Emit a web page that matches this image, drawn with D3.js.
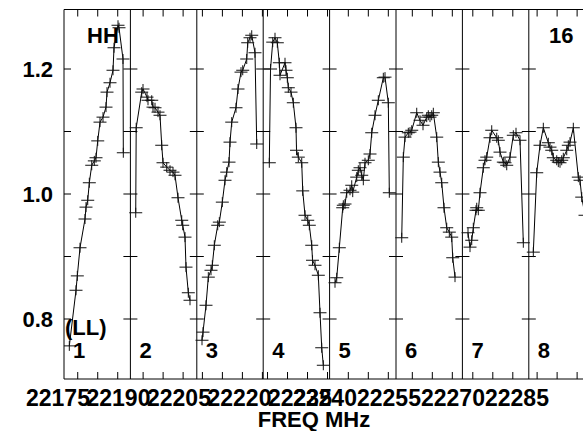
<!DOCTYPE html>
<html><head><meta charset="utf-8">
<script src="https://cdn.jsdelivr.net/npm/d3@7"></script>
<style>
html,body{margin:0;padding:0;background:#fff;}
svg text{font-family:"Liberation Sans",Arial,sans-serif;font-weight:bold;fill:#000;}
</style></head>
<body>
<script>
// ---- data (x = MHz offset within each panel, y = intensity ratio) ----
const panelNames = ["1","2","3","4","5","6","7","8"];
const spec1 = [[1.33,0.757],[3.0,0.846],[3.33,0.869],[4.0,0.914],[5.25,0.960],[5.5,0.979],[5.93,0.990],[6.33,1.018],[6.93,1.046],[7.58,1.053],[8.0,1.058],[8.43,1.085],[9.0,1.115],[9.75,1.123],[10.5,1.139],[10.75,1.163],[11.5,1.178],[12.25,1.198],[12.5,1.234],[13.5,1.270],[13.75,1.266],[14.75,1.216],[14.83,1.066]];
const spec2 = [[1.33,0.970],[1.45,1.106],[2.83,1.163],[3.15,1.168],[4.15,1.155],[4.4,1.150],[5.33,1.150],[5.65,1.139],[6.15,1.138],[6.9,1.131],[7.4,1.126],[7.83,1.078],[8.15,1.050],[9.08,1.043],[9.9,1.038],[10.65,1.035],[11.15,1.030],[11.9,0.994],[12.83,0.958],[13.08,0.950],[13.65,0.931],[13.9,0.883],[14.48,0.842],[14.9,0.830]];
const spec3 = [[1.3,0.766],[1.55,0.779],[2.3,0.822],[2.88,0.867],[3.55,0.878],[3.88,0.886],[4.38,0.918],[5.23,0.950],[5.63,0.955],[6.38,0.987],[7.05,1.022],[7.48,1.035],[8.05,1.051],[8.3,1.083],[8.73,1.115],[9.8,1.138],[10.3,1.168],[11.05,1.195],[11.48,1.198],[12.48,1.216],[12.73,1.242],[13.3,1.250],[13.73,1.254],[14.55,1.226],[14.98,1.080]];
const spec4 = [[1.53,1.050],[1.83,1.200],[2.38,1.243],[2.95,1.250],[3.53,1.242],[4.03,1.210],[4.2,1.190],[5.45,1.210],[5.7,1.198],[6.03,1.186],[6.28,1.170],[6.95,1.163],[7.53,1.146],[8.2,1.106],[8.33,1.070],[8.78,1.059],[9.63,1.050],[9.88,1.005],[10.45,0.966],[11.13,0.958],[11.53,0.950],[12.13,0.918],[12.33,0.894],[12.95,0.886],[13.78,0.870],[14.2,0.810],[14.63,0.754],[15.03,0.726]];
const spec5 = [[1.35,0.858],[1.78,0.866],[2.43,0.914],[3.28,0.978],[3.43,0.982],[3.85,0.984],[4.28,1.002],[5.1,1.006],[5.53,1.014],[5.78,1.003],[6.78,1.027],[7.18,1.038],[7.6,1.042],[8.03,1.030],[8.43,1.022],[8.85,1.050],[9.68,1.054],[10.1,1.064],[10.53,1.098],[11.35,1.126],[12.18,1.150],[13.43,1.186],[13.85,1.187],[14.68,1.146],[14.93,1.002]];
const spec6 = [[1.43,0.930],[1.83,1.059],[2.25,1.091],[3.08,1.098],[3.5,1.099],[3.93,1.102],[5.18,1.130],[6.0,1.118],[6.75,1.110],[7.68,1.123],[8.08,1.126],[8.5,1.123],[8.93,1.126],[9.33,1.130],[10.18,1.091],[10.58,1.051],[11.0,1.035],[11.43,1.018],[12.0,0.978],[12.68,0.946],[13.33,0.939],[13.93,0.931],[14.18,0.898],[14.75,0.867]];
const spec7 = [[1.4,0.938],[1.9,0.915],[2.33,0.926],[2.73,0.946],[3.4,0.974],[3.58,0.978],[3.98,0.974],[4.4,1.002],[5.23,1.042],[5.65,1.054],[6.08,1.059],[6.9,1.090],[7.33,1.102],[8.58,1.090],[8.98,1.086],[9.4,1.067],[10.23,1.051],[10.65,1.050],[11.08,1.046],[11.9,1.059],[12.73,1.094],[13.4,1.098],[14.4,1.086],[15.23,0.922]];
const spec8 = [[1.13,0.907],[1.98,1.034],[2.8,1.078],[3.63,1.106],[4.88,1.082],[5.3,1.075],[5.73,1.070],[6.13,1.058],[6.98,1.054],[7.38,1.051],[7.8,1.050],[8.23,1.054],[8.63,1.058],[9.48,1.070],[9.88,1.078],[10.3,1.083],[11.13,1.106],[12.38,1.027],[12.8,1.022],[13.23,0.995],[14.05,0.966]];
const spectra = [spec1,spec2,spec3,spec4,spec5,spec6,spec7,spec8];

const yTickValues = [0.8,0.9,1.0,1.1,1.2];
const yLabelValues = [0.8,1.0,1.2];
const panelFirstTick = [3.43,3.18,1.4,1.08,4.68,4.08,2.6,2.08];
const tickStep = 5, panelSpan = 16.6;
const freqLabelsA = [22175,22190,22205,22220,22235];
const freqLabelsB = [22240,22255,22270,22285];
const xTitle = "FREQ MHz";

// ---- layout ----
const W = 583, H = 431;
const L = 64, T = 9.5, B = 379, panelW = 66.4;
const svg = d3.select("body").append("svg").attr("width",W).attr("height",H);

const x = d3.scaleLinear().domain([0, 8*panelSpan]).range([L, L + 8*panelW]);
const y = d3.scaleLinear().domain([0.704, 1.2952]).range([B, T]);
const labA = d3.scaleLinear().domain([22175, 22235]).range([26, 268]);
const labB = d3.scaleLinear().domain([22240, 22285]).range([293, 485]);

// frame
const g = svg.append("g").attr("stroke","#000").attr("fill","none").attr("stroke-width",1);
g.append("line").attr("x1",L).attr("x2",W).attr("y1",T).attr("y2",T);
g.append("line").attr("x1",L).attr("x2",W).attr("y1",B).attr("y2",B);
g.append("line").attr("x1",L).attr("x2",L).attr("y1",T).attr("y2",B);

// dividers + y ticks + x ticks
for (let p=0;p<8;p++){
  const x0 = x(p*panelSpan);
  if (p>0) g.append("line").attr("x1",x0).attr("x2",x0).attr("y1",T).attr("y2",B);
  yTickValues.forEach(v=>{
    g.append("line").attr("x1", p===0? x0 : x0-7).attr("x2", x0+7).attr("y1",y(v)).attr("y2",y(v));
  });
  for (let t=panelFirstTick[p]; t<=panelSpan; t+=tickStep){
    const xt = x(p*panelSpan + t);
    if (xt > W) continue;
    g.append("line").attr("x1",xt).attr("x2",xt).attr("y1",T).attr("y2",T+7);
    g.append("line").attr("x1",xt).attr("x2",xt).attr("y1",B).attr("y2",B-7);
  }
}

// spectra
svg.append("clipPath").attr("id","c").append("rect").attr("x",L).attr("y",0).attr("width",W-L).attr("height",B+2);
const dg = svg.append("g").attr("clip-path","url(#c)");
spectra.forEach((s,p)=>{
  const line = d3.line().x(d=>x(p*panelSpan + d[0])).y(d=>y(d[1]));
  dg.append("path").attr("d",line(s)).attr("fill","none").attr("stroke","#000").attr("stroke-width",1);
  dg.selectAll(null).data(s).enter().append("path")
    .attr("transform",d=>`translate(${x(p*panelSpan + d[0])},${y(d[1])})`)
    .attr("d","M-6.5,0H6.5M0,-5V5").attr("stroke","#111").attr("stroke-width",1).attr("fill","none");
});

// y labels
yLabelValues.forEach(v=>{
  svg.append("text").attr("x",53).attr("y",y(v)+8).attr("text-anchor","end").attr("font-size",22).text(v.toFixed(1));
});
// x labels
freqLabelsA.forEach(f=>svg.append("text").attr("x",labA(f)).attr("y",406).attr("font-size",23).text(f));
freqLabelsB.forEach(f=>svg.append("text").attr("x",labB(f)).attr("y",406).attr("font-size",23).text(f));
svg.append("text").attr("x",314).attr("y",427).attr("text-anchor","middle").attr("font-size",22).text(xTitle);

// panel numbers and annotations
panelNames.forEach((n,p)=>{
  svg.append("text").attr("x",x(p*panelSpan)+9).attr("y",358).attr("font-size",22).text(n);
});
svg.append("text").attr("x",87).attr("y",43).attr("font-size",22).text("HH");
svg.append("text").attr("x",549).attr("y",43).attr("font-size",22).text("16");
svg.append("text").attr("x",65).attr("y",335).attr("font-size",22).text("(LL)");
</script>
</body></html>
